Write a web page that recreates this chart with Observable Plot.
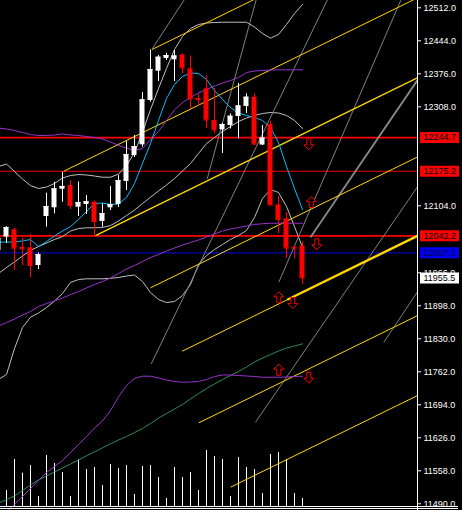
<!DOCTYPE html>
<html><head><meta charset="utf-8">
<script src="https://cdn.jsdelivr.net/npm/d3@7"></script>
<script src="https://cdn.jsdelivr.net/npm/@observablehq/plot@0.6"></script>
<style>
html,body{margin:0;padding:0;background:#000;}
#wrap{position:relative;width:462px;height:510px;overflow:hidden;background:#000;}
#wrap svg{position:absolute;left:0;top:0;}
#border{position:absolute;left:0;top:506px;width:458px;height:1px;border-top:1px solid #fff;border-bottom:1px solid #fff;}
</style></head>
<body><div id="wrap"><div id="vol"></div><div id="main"></div><div id="border"></div></div>
<script>
// ---- bars, index -1 .. 37 ----
const barIndex = d3.range(-1, 38);
const open  = [12011.9,12039.7,12054.5,12018.1,12017.5,11981.0,12082.0,12099.9,12138.2,12145.8,12101.1,12106.7,12111.4,12071.7,12099.9,12106.7,12154.1,12207.6,12229.7,12321.0,12381.4,12407.5,12404.9,12414.7,12386.3,12325.1,12345.1,12279.8,12260.6,12269.5,12288.0,12308.6,12327.8,12229.3,12271.5,12105.7,12076.8,12019.1,12021.2];
const high  = [12040.7,12061.3,12057.2,12037.6,12044.9,12006.7,12130.0,12152.6,12173.2,12156.1,12153.0,12125.2,12113.9,12108.1,12143.8,12166.4,12236.5,12248.9,12337.5,12425.5,12413.7,12418.5,12424.0,12417.2,12412.7,12333.3,12372.5,12345.7,12273.6,12293.6,12356.0,12334.8,12334.8,12269.5,12278.3,12123.2,12090.2,12019.1,12030.4];
const low   = [12007.8,12026.3,11970.7,11981.0,11956.3,11972.7,12059.9,12087.5,12111.4,12096.4,12082.0,12086.1,12040.7,12059.9,12094.3,12100.5,12135.5,12203.5,12224.8,12317.5,12360.1,12403.4,12360.1,12376.6,12302.4,12308.6,12262.7,12252.4,12211.8,12262.3,12242.1,12294.2,12228.3,12228.3,12104.6,12046.3,11995.4,11995.4,11941.8];
const close = [12036.6,12059.3,12016.6,12015.4,11981.0,12003.6,12102.6,12139.0,12143.8,12104.6,12110.8,12112.9,12071.7,12088.1,12106.7,12156.1,12209.7,12226.2,12322.4,12384.9,12410.2,12413.7,12412.7,12388.0,12324.1,12323.0,12280.8,12260.2,12271.5,12288.6,12309.7,12327.8,12231.3,12243.7,12105.7,12075.8,12017.0,12017.0,11955.2];

// ---- indicator series (same index) ----
const maCyan = [12029.0,12029.4,12029.4,12031.5,12034.6,12020.1,12030.4,12041.8,12052.1,12061.3,12075.8,12092.3,12108.7,12109.8,12106.7,12107.7,12121.1,12150.0,12191.2,12232.4,12279.8,12325.1,12354.0,12370.4,12377.7,12376.6,12364.3,12341.6,12323.0,12306.6,12295.2,12290.1,12286.0,12279.8,12265.3,12234.4,12185.0,12139.7,12096.4];
const maPurple1 = [12264.3,12262.3,12259.2,12255.0,12250.9,12248.9,12248.9,12249.9,12252.0,12249.9,12248.9,12246.8,12244.7,12241.7,12235.5,12228.3,12223.1,12218.0,12222.1,12240.6,12257.1,12279.8,12301.4,12316.9,12327.2,12336.4,12343.7,12350.9,12357.0,12362.2,12368.4,12378.7,12381.8,12382.8,12383.8,12384.2,12384.2,12384.2,12384.2];
const maPurple2 = [11856.3,11863.5,11870.7,11879.0,11886.2,11896.5,11902.7,11907.8,11914.0,11921.2,11927.4,11934.6,11941.8,11948.0,11955.2,11964.5,11973.8,11981.0,11989.2,11997.5,12003.7,12010.9,12017.0,12023.2,12028.4,12033.5,12039.7,12045.9,12052.1,12056.2,12059.3,12062.4,12065.5,12067.1,12068.1,12068.1,12068.1,12068.1,12068.1];
const maPurple3 = [11456.5,11472.8,11489.1,11505.0,11521.5,11538.0,11554.4,11566.8,11579.2,11595.6,11612.1,11628.6,11646.1,11660.6,11682.2,11710.0,11733.7,11748.1,11752.9,11752.9,11749.2,11745.0,11742.0,11740.5,11740.9,11742.0,11746.1,11752.3,11755.4,11755.4,11754.3,11753.3,11752.3,11750.8,11750.8,11750.8,11751.2,11752.3,11752.9];
const maGreen = [11491.6,11498.8,11506.0,11517.3,11529.1,11539.0,11547.2,11555.5,11563.7,11572.0,11580.2,11588.9,11597.1,11605.3,11613.6,11621.4,11628.6,11636.9,11645.1,11655.4,11666.7,11676.0,11685.3,11694.6,11705.9,11717.2,11727.5,11736.8,11746.1,11754.3,11762.6,11771.8,11782.1,11790.4,11797.6,11804.8,11811.0,11815.1,11819.6];
const bbUpper = [12185.0,12190.1,12174.7,12159.2,12145.8,12139.7,12142.7,12150.0,12161.3,12166.4,12168.5,12167.5,12165.4,12162.9,12162.9,12169.5,12187.0,12213.8,12255.0,12302.4,12345.7,12386.9,12426.1,12452.9,12469.3,12477.6,12480.7,12481.7,12482.3,12482.3,12482.3,12482.3,12472.4,12459.0,12449.4,12457.0,12477.6,12500.3,12518.8];
const bbMiddle = [11964.5,11976.9,11988.2,12000.6,12011.9,12020.1,12027.3,12034.6,12040.7,12052.1,12057.2,12058.7,12058.7,12059.3,12063.4,12072.7,12084.0,12095.3,12108.7,12121.7,12134.5,12146.9,12160.3,12175.7,12191.2,12211.8,12232.4,12244.7,12257.1,12267.4,12277.7,12284.9,12290.1,12294.2,12296.3,12295.2,12290.1,12279.8,12263.3];
const bbLower = [11746.0,11756.4,11810.0,11853.2,11874.5,11883.1,11894.4,11907.8,11923.3,11946.0,11952.1,11953.6,11953.6,11953.6,11954.6,11956.3,11959.3,11961.4,11948.0,11925.3,11910.9,11904.7,11906.8,11919.2,11941.8,11983.1,12001.6,12014.0,12024.3,12034.6,12042.8,12053.1,12079.9,12119.0,12137.6,12131.4,12102.6,12061.3,12018.1];

// ---- volume, index 0 .. 37 ----
const volume = [320,940,666,820,200,1020,860,680,200,934,740,780,420,840,760,820,240,800,820,580,160,780,580,680,320,1120,1000,940,200,980,780,740,260,1040,1080,940,260,160];

// ---- drawn objects: [index1, price1, index2, price2] ----
const yellowLines = [[18.2,12426.1,32,12537.6],[7.16,12175.3,51.4,12532.7],[18.0,11935.0,51.4,12204.8],[21.96,11804.4,51.4,12042.2],[24.04,11656.9,51.4,11877.9],[28.0,11524.2,51.4,11713.2]];
const yellowBold = [[11.125,12042.8,51.4,12368.1]];
const yellowThick = [[35.09,11910.5,51.4,12042.2]];
const grayLines = [[18.21,12427.5,22.2,12528],[25.09,12159.6,31.2,12528],[18.09,11778.4,40.1,12528],[34.04,11946.6,49.3,12528],[31.125,11658.1,51.4,12143.7],[47.17,11822.9,51.4,11927.4]];
const grayThick = [[38.0,12039.3,51.4,12363.7]];
const redLevels = [12244.7,12042.2];
const redLevelThin = [12175.2];
const blueLevel = [12007.1];
const arrowsUp = [[38.09,12111.8],[34.04,11915.4],[34.04,11766.3]];
const arrowsDown = [[37.79,12230.7],[38.79,12024.7],[35.79,11903.7],[37.79,11749.8]];
const yTicks = [12512,12444,12376,12308,12104,11966,11898,11830,11762,11694,11626,11558,11490];
const priceBoxes = [
  {v:12244.7, bg:"#ff0000", fg:"#000000"},
  {v:12175.2, bg:"#ff0000", fg:"#000000"},
  {v:12042.2, bg:"#ff0000", fg:"#000000"},
  {v:12007.1, bg:"#0000ee", fg:"#000040"},
  {v:11955.5, bg:"#ffffff", fg:"#000000"}
];

const xDomain = [-0.75, 51.375];
const xMax = xDomain[1];

const candles = barIndex.map((k,i)=>({k, o:open[i], h:high[i], l:low[i], c:close[i], col: close[i] >= open[i] ? "#ffffff" : "#ff0000"}));
const series = (arr) => barIndex.map((k,i)=>({k, v:arr[i]}));
const segs = (arr) => arr.map(([a,b,c,d])=>({a,b,c,d}));
const pts = (arr) => arr.map(([k,v])=>({k,v}));

const upArrow = {draw(ctx){ctx.moveTo(0,-5.5);ctx.lineTo(5,-0.5);ctx.lineTo(2,-0.5);ctx.lineTo(2,5.5);ctx.lineTo(-2,5.5);ctx.lineTo(-2,-0.5);ctx.lineTo(-5,-0.5);ctx.closePath();}};
const downArrow = {draw(ctx){ctx.moveTo(0,5.5);ctx.lineTo(5,0.5);ctx.lineTo(2,0.5);ctx.lineTo(2,-5.5);ctx.lineTo(-2,-5.5);ctx.lineTo(-2,0.5);ctx.lineTo(-5,0.5);ctx.closePath();}};
const boxSym = {draw(ctx){ctx.rect(-19.5,-5.5,39,11);}};

const common = {
  width: 462, height: 510,
  marginLeft: 0, marginRight: 45, marginTop: 0, marginBottom: 0,
  x: {domain: xDomain, axis: null},
  style: {background: "transparent", color: "white", fontFamily: "Liberation Sans, Arial, sans-serif", fontSize: "9px"}
};

const lineOf = (arr, stroke, w=1) => Plot.line(series(arr), {x:"k", y:"v", stroke, strokeWidth:w, clip:true});
const linkOf = (arr, stroke, w=1) => Plot.link(segs(arr), {x1:"a", y1:"b", x2:"c", y2:"d", stroke, strokeWidth:w, clip:true});

const main = Plot.plot({
  ...common,
  y: {domain: [11490, 12512], range: [503.3, 7.3], axis: null},
  color: {type: "identity"},
  marks: [
    Plot.ruleY(redLevels, {y: d=>d, stroke:"#ff0000", strokeWidth:1.8}),
    Plot.ruleY(redLevelThin, {y: d=>d, stroke:"#f00000", strokeWidth:1.1}),
    Plot.ruleY(blueLevel, {y: d=>d, stroke:"#0000b4", strokeWidth:1.1}),
    lineOf(bbUpper, "#c0c0c0"),
    lineOf(bbMiddle, "#c0c0c0"),
    lineOf(bbLower, "#c0c0c0"),
    linkOf(grayLines, "#808080"),
    linkOf(grayThick, "#8a8a8a", 1.8),
    linkOf(yellowLines, "#ffd700"),
    linkOf(yellowBold, "#ffd700", 1.4),
    linkOf(yellowThick, "#ffd700", 2.4),
    lineOf(maGreen, "#2e8b57"),
    lineOf(maPurple3, "#9932cc"),
    lineOf(maPurple2, "#9932cc"),
    lineOf(maPurple1, "#9932cc"),
    lineOf(maCyan, "#00bfff"),
    Plot.ruleX(candles, {x:"k", y1:"l", y2:"h", stroke:"col", clip:true}),
    Plot.rect(candles, {x1: d=>d.k-0.3125, x2: d=>d.k+0.3125, y1:"o", y2:"c", fill:"col", clip:true}),
    Plot.ruleY(candles, {x1: d=>d.k-0.3125, x2: d=>d.k+0.3125, y:"c", stroke:"col", clip:true}),
    Plot.dot(pts(arrowsUp), {x:"k", y:"v", symbol: upArrow, stroke:"#ff0000", fill:"#000000", strokeWidth:1}),
    Plot.dot(pts(arrowsDown), {x:"k", y:"v", symbol: downArrow, stroke:"#ff0000", fill:"#000000", strokeWidth:1}),
    Plot.ruleX([xMax], {x: d=>d, stroke:"#ffffff"}),
    Plot.ruleY(yTicks, {y: d=>d, x1: ()=>xMax, x2: ()=>xMax+0.5, stroke:"#ffffff"}),
    Plot.text(yTicks, {x: ()=>xMax, y: d=>d, text: d=>d.toFixed(1), dx:6, textAnchor:"start", fill:"#ffffff"}),
    Plot.dot(priceBoxes, {x: ()=>xMax, y:"v", dx:22, symbol: boxSym, fill:"bg", stroke:"none"}),
    Plot.text(priceBoxes, {x: ()=>xMax, y:"v", text: d=>d.v.toFixed(1), dx:6, textAnchor:"start", fill:"fg"})
  ]
});

const vol = Plot.plot({
  ...common,
  y: {domain: [0, 1200], range: [506, 446], axis: null},
  marks: [
    Plot.ruleX(volume.map((v,k)=>({k, v})), {x:"k", y1:()=>0, y2:"v", stroke:"#ffffff"})
  ]
});

document.getElementById("vol").appendChild(vol);
document.getElementById("main").appendChild(main);
</script>
</body></html>
